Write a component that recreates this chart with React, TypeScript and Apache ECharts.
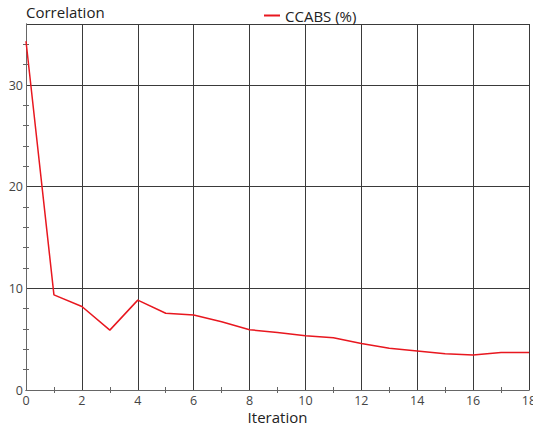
import React, { useEffect, useRef } from "react";
import * as echarts from "echarts";

const iterations = [0, 1, 2, 3, 4, 5, 6, 7, 8, 9, 10, 11, 12, 13, 14, 15, 16, 17, 18];
const ccabs = [34.3, 9.36, 8.21, 5.89, 8.84, 7.55, 7.38, 6.72, 5.93, 5.66, 5.33, 5.13, 4.57, 4.1, 3.84, 3.57, 3.45, 3.7, 3.7];
const seriesName = "CCABS (%)";
const yTitle = "Correlation";
const xTitle = "Iteration";

const FONT = "'Open Sans', 'Noto Sans', sans-serif";

export default function App() {
  const ref = useRef<HTMLDivElement>(null);
  useEffect(() => {
    if (!ref.current) return;
    const chart = echarts.init(ref.current, null, { renderer: "svg" });
    const gridLine = { show: true, lineStyle: { color: "#3a3a3a", width: 1 } };
    const axisLine = { show: true, lineStyle: { color: "#666", width: 1 } };
    chart.setOption({
      animation: false,
      textStyle: { fontFamily: FONT },
      title: {
        text: yTitle,
        left: 21,
        top: -1,
        textStyle: { fontSize: 15, fontWeight: "normal", color: "#222", fontFamily: FONT },
      },
      legend: {
        left: 259,
        top: 3,
        itemWidth: 16,
        itemHeight: 10,
        itemGap: 6,
        icon: "path://M0,4 L16,4 L16,6 L0,6 Z",
        textStyle: { fontSize: 15, color: "#222", fontFamily: FONT },
        data: [seriesName],
      },
      grid: { left: 26, right: 4, top: 24, bottom: 34, containLabel: false, outerBoundsMode: "none" },
      xAxis: [
        {
          type: "value",
          min: 0,
          max: 18,
          interval: 2,
          name: xTitle,
          nameLocation: "middle",
          nameGap: 19,
          nameMoveOverlap: false,
          nameTextStyle: { fontSize: 15, lineHeight: 15, color: "#222", fontFamily: FONT, verticalAlign: "top" },
          axisLine,
          axisTick: { show: false },
          minorTick: { show: true, splitNumber: 2, length: 3, lineStyle: { color: "#666" } },
          axisLabel: { fontSize: 12.5, lineHeight: 13, color: "#444", margin: 4, fontFamily: FONT },
          splitLine: gridLine,
        },
        {
          type: "value",
          position: "top",
          min: 0,
          max: 18,
          interval: 2,
          axisLine,
          axisTick: { show: false },
          minorTick: { show: true, splitNumber: 2, length: 3, lineStyle: { color: "#666" } },
          axisLabel: { show: false },
          splitLine: { show: false },
        },
      ],
      yAxis: [
        {
          type: "value",
          min: 0,
          max: 36,
          interval: 10,
          axisLine,
          axisTick: { show: false },
          minorTick: { show: true, splitNumber: 5, length: 3, lineStyle: { color: "#666" } },
          axisLabel: { fontSize: 12.5, color: "#444", margin: 3, fontFamily: FONT, showMaxLabel: false },
          splitLine: gridLine,
        },
        {
          type: "value",
          position: "right",
          min: 0,
          max: 36,
          interval: 10,
          axisLine,
          axisTick: { show: false },
          minorTick: { show: true, splitNumber: 5, length: 3, lineStyle: { color: "#666" } },
          axisLabel: { show: false },
          splitLine: { show: false },
        },
      ],
      series: [
        {
          name: seriesName,
          type: "line",
          xAxisIndex: 0,
          yAxisIndex: 0,
          data: iterations.map((x, i) => [x, ccabs[i]]),
          showSymbol: false,
          symbol: "none",
          lineStyle: { color: "#e8171f", width: 1.5 },
          itemStyle: { color: "#e8171f" },
        },
      ],
    });
    return () => chart.dispose();
  }, []);
  return <div ref={ref} style={{ width: 533, height: 424, position: "absolute", left: 0, top: 0, background: "#fff" }} />;
}
